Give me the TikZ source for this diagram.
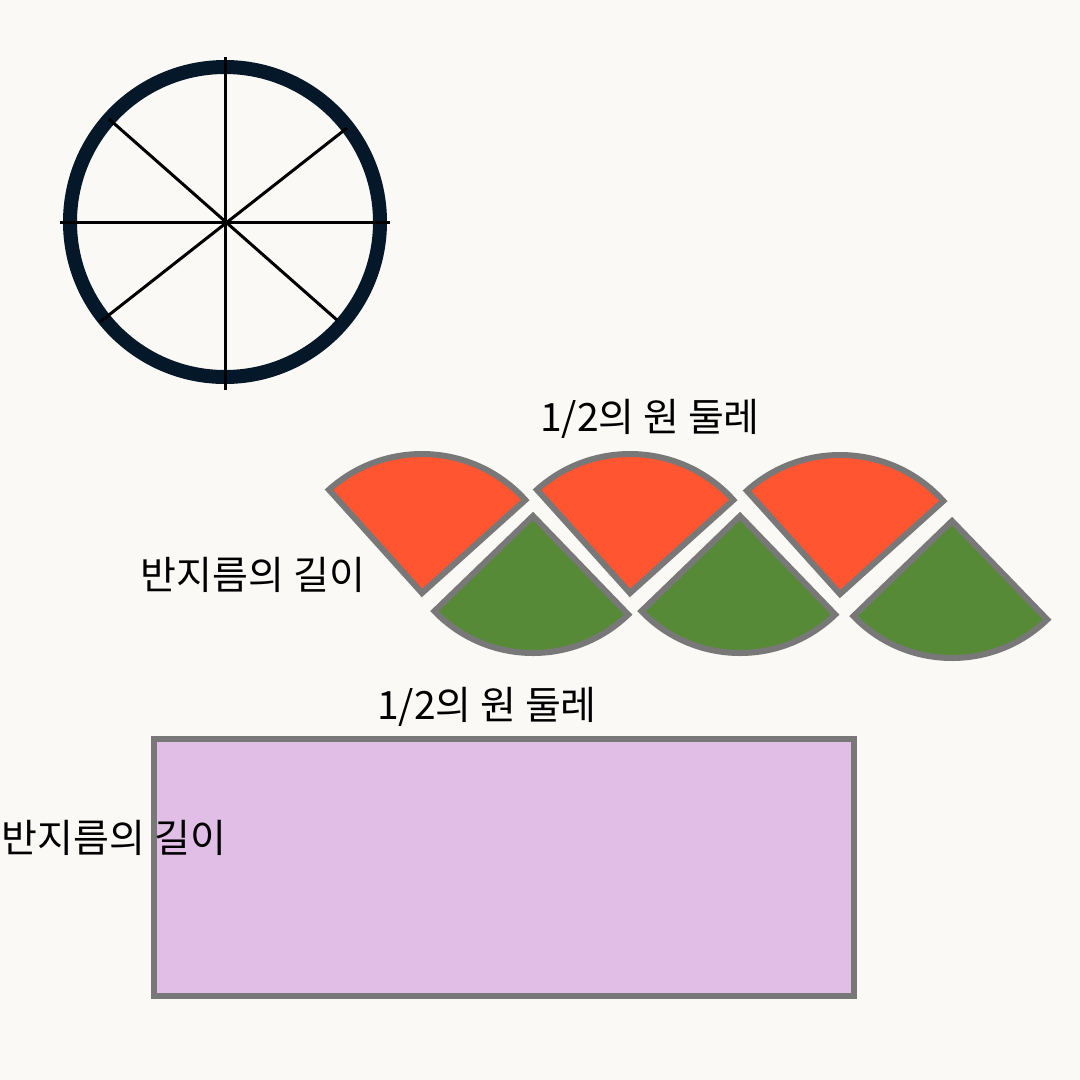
\documentclass[tikz,border=0pt]{standalone}
\usepackage{fontspec}
\setmainfont{Noto Sans CJK KR}
\begin{document}
\begin{tikzpicture}[x=1pt,y=-1pt,
  redsec/.style={fill=secred,draw=secgray,line width=6pt,line join=miter},
  greensec/.style={fill=secgreen,draw=secgray,line width=6pt,line join=miter},
  spoke/.style={draw=black,line width=3pt},
  lbl/.style={font=\fontsize{39}{44}\selectfont,inner sep=0pt,text=black}]
\definecolor{bg}{HTML}{FBF9F5}
\definecolor{ring}{HTML}{04182A}
\definecolor{secred}{HTML}{FF5530}
\definecolor{secgreen}{HTML}{578A36}
\definecolor{secgray}{HTML}{787878}
\definecolor{lav}{HTML}{E0BEE6}
\fill[bg] (0,0) rectangle (1080,1080);
\useasboundingbox (0,0) rectangle (1080,1080);
% circle
\coordinate (o) at (225,222);
\draw[ring,line width=14pt] (o) circle[radius=155];
\coordinate (h1) at (60,222); \coordinate (h2) at (390,222);
\coordinate (v1) at (225,57); \coordinate (v2) at (225,390);
\coordinate (d1) at (109,119); \coordinate (d2) at (337,320);
\coordinate (e1) at (347,128); \coordinate (e2) at (100,322);
\draw[spoke] (h1) -- (h2);
\draw[spoke] (v1) -- (v2);
\draw[spoke] (d1) -- (d2);
\draw[spoke] (e1) -- (e2);
% sectors
\coordinate (r1) at (422,593);
\coordinate (r2) at (630,593);
\coordinate (r3) at (840,594);
\coordinate (g1) at (533,516);
\coordinate (g2) at (740,516);
\coordinate (g3) at (952,521);
\foreach \c in {r1,r2,r3}{
  \draw[redsec] (\c) -- ++(-42:139) arc[start angle=-42,end angle=-132,radius=139] -- cycle;
}
\foreach \c in {g1,g2,g3}{
  \draw[greensec] (\c) -- ++(-224:137) arc[start angle=-224,end angle=-314,radius=137] -- cycle;
}
% rectangle
\draw[fill=lav,draw=secgray,line width=6pt] (154,739) rectangle (853.5,996);
% labels
\node[lbl] (t1) at (650,419) {1/2의 원 둘레};
\node[lbl] (t2) at (253,575) {반지름의 길이};
\node[lbl] (t3) at (487,707) {1/2의 원 둘레};
\node[lbl] (t4) at (114,838) {반지름의 길이};
\end{tikzpicture}
\end{document}
